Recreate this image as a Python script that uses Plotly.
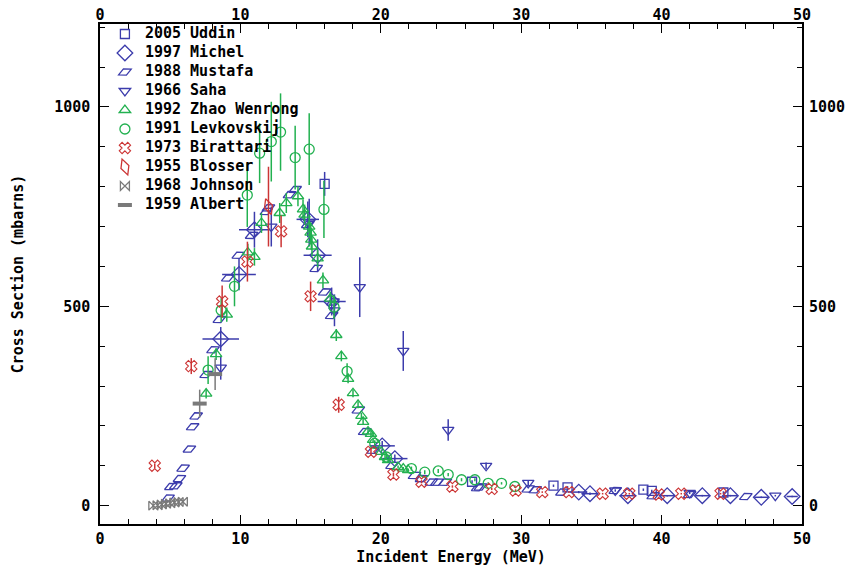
import plotly.graph_objects as go

# ---------------- data ----------------
E_uddin = [16.0, 26.5, 32.3, 33.3, 38.7, 39.3, 44.4]
s_uddin = [807, 60, 50, 46, 40, 37, 33]
e_uddin = [30, 4, 3, 3, 3, 3, 3]

E_michel = [8.6, 9.9, 11.0, 14.8, 15.5, 16.5, 20.1, 21.0, 34.1, 34.9, 37.6, 40.4, 42.9, 44.9, 47.1, 49.3]
s_michel = [418, 580, 692, 718, 628, 512, 150, 118, 34, 30, 25, 25, 25, 25, 21, 23]
ex_michel = [1.3, 1.2, 1.1, 0.8, 1.0, 1.0, 0.9, 0.9, 0.6, 0.6, 0.6, 0.5, 0.5, 0.5, 0.5, 0.4]
ey_michel = [30, 40, 45, 45, 40, 35, 12, 10, 3, 3, 2, 2, 2, 2, 2, 2]

E_mustafa = [4.85, 5.05, 5.4, 5.66, 5.92, 6.37, 6.6, 6.85, 7.56, 8.05, 8.5, 9.1, 9.85, 10.8, 11.85,
             12.0, 13.5, 13.9, 14.8, 15.4, 16.0, 16.5, 16.6, 18.4, 18.85, 19.45, 20.8, 22.4, 22.9,
             23.6, 24.0, 24.6, 26.9, 27.1, 30.5, 31.0, 32.9, 36.7, 39.4, 42.0, 46.0]
s_mustafa = [19, 48, 50, 68, 94, 142, 198, 225, 329, 391, 467, 571, 628, 678, 738,
             747, 780, 793, 705, 595, 536, 477, 511, 240, 186, 139, 101, 76, 68,
             59, 59, 59, 45, 47, 42, 40, 34, 38, 25, 28, 23]

E_saha = [8.6, 12.2, 14.9, 16.7, 18.5, 21.6, 24.8, 27.5, 30.5, 36.7, 42.0, 48.1]
s_saha = [346, 700, 710, 490, 548, 388, 190, 100, 57, 38, 32, 25]
e_saha = [30, 50, 60, 40, 75, 50, 27, 8, 5, 3, 3, 2]

E_zhao = [7.56, 8.27, 9.03, 10.53, 11.0, 11.5, 12.8, 13.27, 14.1, 14.46, 14.57, 14.9, 15.0, 15.05,
          15.1, 15.5, 15.88, 16.4, 16.83, 17.19, 17.67, 18.02, 18.38, 18.62, 18.74, 19.09, 19.3,
          19.45, 20.04, 20.3, 20.52, 21.23, 21.6, 21.95]
s_zhao = [281, 380, 479, 635, 624, 709, 734, 759, 776, 743, 730, 700, 685, 667,
          650, 620, 565, 519, 428, 375, 318, 282, 253, 225, 210, 186, 180,
          165, 135, 122, 114, 97, 93, 89]
e_zhao = [12, 15, 18, 22, 22, 25, 25, 25, 25, 25, 25, 25, 25, 25,
          25, 22, 20, 18, 15, 13, 11, 10, 9, 8, 8, 7, 7,
          6, 5, 5, 4, 4, 4, 4]

E_levk = [7.7, 8.63, 9.58, 10.49, 11.37, 12.2, 12.86, 13.9, 14.9, 15.95, 16.67, 17.6, 19.57, 20.4,
          22.18, 23.13, 24.09, 24.8, 25.75, 26.7, 27.65, 28.6, 29.55]
s_levk = [340, 490, 550, 779, 884, 913, 937, 873, 894, 743, 498, 337, 156, 122,
          93, 84, 87, 78, 65, 65, 56, 56, 48]
e_levk = [35, 30, 50, 80, 75, 100, 97, 80, 90, 72, 30, 20, 8, 6,
          5, 5, 5, 4, 4, 4, 3, 3, 3]

E_birat = [3.9, 6.5, 8.7, 10.5, 12.9, 15.0, 17.0, 19.3, 20.9, 22.9, 25.1, 27.9, 29.6, 31.5, 33.4,
           35.8, 37.7, 39.8, 41.4, 44.2]
s_birat = [100, 350, 512, 612, 688, 525, 253, 135, 78, 60, 48, 42, 38, 34, 34,
           30, 30, 28, 30, 30]
e_birat = [6, 20, 40, 50, 40, 37, 20, 10, 5, 4, 3, 3, 3, 2, 2, 2, 2, 2, 2, 2]

E_blosser = [12.0]
s_blosser = [750]
e_blosser = [100]

E_johnson = [3.8, 4.1, 4.4, 4.7, 5.0, 5.3, 5.6, 5.9]
s_johnson = [0, 1, 3, 5, 6, 8, 9, 10]
e_johnson = [4, 4, 4, 4, 4, 4, 4, 4]

E_albert = [7.1, 8.2]
s_albert = [256, 330]
e_albert = [35, 40]

x_ticks = [0, 10, 20, 30, 40, 50]
y_ticks = [0, 500, 1000]

BLUE = "#3c3cac"
GREEN = "#22b150"
RED = "#cc3535"
GRAY = "#7a7a7a"

FONT = "DejaVu Sans Mono"

fig = go.Figure()


def add(name, x, y, color, symbol, size=10, ey=None, ex=None, angle=0, lw=1.3):
    kw = {}
    if ey is not None:
        kw["error_y"] = dict(type="data", array=ey, visible=True, color=color, thickness=1.5, width=0)
    if ex is not None:
        kw["error_x"] = dict(type="data", array=ex, visible=True, color=color, thickness=1.5, width=0)
    label = '<span style="font-size:15px">' + name + '</span>'
    fig.add_trace(go.Scatter(
        x=x, y=y, mode="markers", name=label,
        marker=dict(symbol=symbol, size=size, color=color, angle=angle,
                    line=dict(color=color, width=lw)),
        **kw))


add("2005 Uddin", E_uddin, s_uddin, BLUE, "square-open", 9, ey=e_uddin)
add("1997 Michel", E_michel, s_michel, BLUE, "diamond-open", 12, ey=ey_michel, ex=ex_michel)
add("1988 Mustafa", E_mustafa, s_mustafa, BLUE, "diamond-wide-open", 10, angle=-25)
add("1966 Saha", E_saha, s_saha, BLUE, "triangle-down-open", 10, ey=e_saha)
add("1992 Zhao Wenrong", E_zhao, s_zhao, GREEN, "triangle-up-open", 10, ey=e_zhao)
add("1991 Levkovskij", E_levk, s_levk, GREEN, "circle-open", 10, ey=e_levk)
add("1973 Birattari", E_birat, s_birat, RED, "x-open", 10, ey=e_birat, lw=1.1)
add("1955 Blosser", E_blosser, s_blosser, RED, "diamond-tall-open", 12, ey=e_blosser, angle=-20)
add("1968 Johnson", E_johnson, s_johnson, GRAY, "bowtie-open", 9, ey=e_johnson)
add("1959 Albert", E_albert, s_albert, GRAY, "line-ew-open", 10, ey=e_albert, lw=4)

# invisible copy on the secondary axes so the top / right tick labels get drawn
fig.add_trace(go.Scatter(x=E_uddin, y=s_uddin, xaxis="x2", yaxis="y2", mode="markers",
                         marker=dict(opacity=0), showlegend=False, hoverinfo="skip"))

tickfont = dict(family=FONT, size=15, color="black", weight="bold")

common_x = dict(range=[0, 50], tickmode="array", tickvals=x_ticks, ticktext=[str(v) for v in x_ticks],
                ticks="inside", ticklen=9, tickwidth=1.2, tickcolor="black",
                minor=dict(dtick=2, tick0=0, ticks="inside", ticklen=5, tickwidth=1.2, tickcolor="black"),
                showgrid=False, zeroline=False, tickfont=tickfont, automargin=False)
common_y = dict(range=[-46, 1208], tickmode="array", tickvals=y_ticks, ticktext=[str(v) for v in y_ticks],
                ticks="inside", ticklen=9, tickwidth=1.2, tickcolor="black",
                minor=dict(dtick=100, tick0=0, ticks="inside", ticklen=5, tickwidth=1.2, tickcolor="black"),
                showgrid=False, zeroline=False, tickfont=tickfont, automargin=False)

fig.update_layout(
    width=848, height=566,
    margin=dict(l=100, r=46, t=24, b=42, autoexpand=False),
    paper_bgcolor="white", plot_bgcolor="white",
    showlegend=True,
    legend=dict(x=0.007, y=1.009, xanchor="left", yanchor="top", bgcolor="rgba(0,0,0,0)",
                font=dict(family=FONT, size=11, color="black", weight="bold"),
                itemwidth=30, tracegroupgap=0),
    xaxis=dict(**common_x, showline=True, linecolor="black", linewidth=1.5, mirror=True,
               title=dict(text="Incident Energy (MeV)", standoff=10,
                          font=dict(family=FONT, size=15, color="black", weight="bold"))),
    yaxis=dict(**common_y, showline=True, linecolor="black", linewidth=1.5, mirror=True,
               ticklabelstandoff=5,
               title=dict(text="Cross Section (mbarns)", standoff=27,
                          font=dict(family=FONT, size=15, color="black", weight="bold"))),
    xaxis2=dict(**common_x, overlaying="x", side="top", anchor="y2", showline=False),
    yaxis2=dict(**common_y, overlaying="y", side="right", anchor="x2", showline=False,
                ticklabelstandoff=6),
)

fig.write_html("out.html")
